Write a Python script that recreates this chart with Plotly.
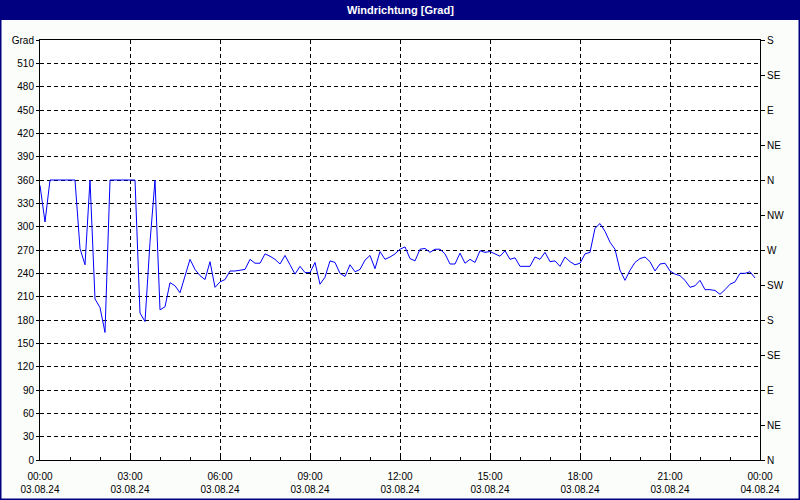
import plotly.graph_objects as go
import pandas as pd

# 10-minute wind direction values (degrees), 03.08.24 00:00 .. 23:50
direction = [
    353, 306, 360, 360, 360, 360, 360, 360, 272, 251,
    360, 207, 196, 164, 360, 360, 360, 360, 360, 360,
    189, 178, 280, 360, 193, 197, 228, 224, 215, 236,
    258, 245, 237, 232, 255, 222, 229, 232, 243, 243,
    244, 245, 258, 253, 253, 265, 262, 258, 252, 263,
    251, 239, 249, 241, 241, 254, 226, 235, 256, 254,
    240, 236, 251, 242, 245, 257, 263, 246, 268, 258,
    261, 265, 271, 274, 259, 256, 271, 272, 267, 271,
    271, 265, 252, 252, 266, 253, 258, 254, 269, 267,
    268, 265, 262, 269, 258, 260, 249, 249, 249, 261,
    258, 267, 255, 256, 249, 261, 255, 251, 253, 265,
    267, 298, 304, 294, 280, 271, 244, 231, 244, 254,
    259, 261, 255, 243, 252, 253, 243, 239, 237, 231,
    222, 224, 231, 219, 219, 218, 213, 219, 226, 229,
    240, 240, 242, 234,
]
times = pd.date_range("2024-08-03 00:00", periods=len(direction), freq="10min")

x_tick_vals = pd.date_range("2024-08-03 00:00", periods=9, freq="3h")
x_tick_text = ["00:00<br>03.08.24", "03:00<br>03.08.24", "06:00<br>03.08.24",
               "09:00<br>03.08.24", "12:00<br>03.08.24", "15:00<br>03.08.24",
               "18:00<br>03.08.24", "21:00<br>03.08.24", "00:00<br>04.08.24"]

y_tick_vals = list(range(0, 541, 30))
y_tick_text = [str(v) for v in range(0, 511, 30)] + ["Grad"]

compass_vals = list(range(0, 541, 45))
compass_text = ["N", "NE", "E", "SE", "S", "SW", "W", "NW", "N", "NE", "E", "SE", "S"]

title_text = "Windrichtung [Grad]"

W, H = 800, 500
L, R, T, B = 40, 40, 40, 40
pw, ph = W - L - R, H - T - B

def px_x(px):
    return (px - L) / pw

def px_y(py):
    return (H - B - py) / ph

FONT = "Liberation Sans"
navy = "#000080"
DASH = "4px,3px"

fig = go.Figure()
fig.add_trace(go.Scatter(x=times, y=direction, mode="lines",
                         line=dict(color="#0000FF", width=1),
                         showlegend=False, hoverinfo="x+y"))
fig.add_trace(go.Scatter(x=times, y=direction, mode="lines", yaxis="y2",
                         line=dict(color="rgba(0,0,0,0)", width=1),
                         showlegend=False, hoverinfo="skip"))

fig.update_layout(
    width=W, height=H,
    margin=dict(l=L, r=R, t=T, b=B, pad=0, autoexpand=False),
    paper_bgcolor="#FBFDFB",
    plot_bgcolor="#FFFFFF",
    font=dict(family=FONT, size=10, color="#000000"),
    xaxis=dict(
        type="date", automargin=False,
        range=[x_tick_vals[0], x_tick_vals[-1]],
        tickvals=list(x_tick_vals), ticktext=x_tick_text,
        showgrid=True, gridcolor="#000000", griddash=DASH, gridwidth=1,
        showline=True, linecolor="#000000", linewidth=1, mirror=True,
        ticks="inside", ticklen=4, tickcolor="#000000",
        ticklabelstandoff=7,
        minor=dict(dtick=3600000, ticks="inside", ticklen=3, tickcolor="#000000", showgrid=False),
        zeroline=False,
        tickfont=dict(family=FONT, size=10, color="#000000"),
    ),
    yaxis=dict(
        range=[0, 540], automargin=False,
        tickvals=y_tick_vals, ticktext=y_tick_text,
        showgrid=True, gridcolor="#000000", griddash=DASH, gridwidth=1,
        showline=True, linecolor="#000000", linewidth=1, mirror=True,
        ticks="outside", ticklen=3, tickcolor="#000000",
        zeroline=False,
        tickfont=dict(family=FONT, size=10, color="#000000"),
    ),
    yaxis2=dict(
        range=[0, 540], overlaying="y", side="right", automargin=False,
        tickvals=compass_vals, ticktext=compass_text,
        showgrid=False, zeroline=False,
        showline=True, linecolor="#000000", linewidth=1,
        ticks="outside", ticklen=4, tickcolor="#000000",
        tickfont=dict(family=FONT, size=10, color="#000000"),
    ),
    shapes=[
        dict(type="rect", xref="paper", yref="paper",
             x0=px_x(0), x1=px_x(W), y0=px_y(20), y1=px_y(0),
             fillcolor=navy, line=dict(width=0), layer="below"),
        dict(type="rect", xref="paper", yref="paper",
             x0=px_x(0.5), x1=px_x(W - 0.5), y0=px_y(H - 0.5), y1=px_y(0.5),
             fillcolor="rgba(0,0,0,0)", line=dict(color=navy, width=2)),
    ],
    annotations=[
        dict(text="<b>" + title_text + "</b>", xref="paper", yref="paper",
             x=0.5, y=px_y(10), xanchor="center", yanchor="middle",
             showarrow=False, font=dict(family=FONT, size=11, color="#FFFFFF")),
    ],
)

fig.write_html("out.html",
               config={"displayModeBar": False},
               post_script="document.body.style.margin='0';document.body.style.overflow='hidden';")
